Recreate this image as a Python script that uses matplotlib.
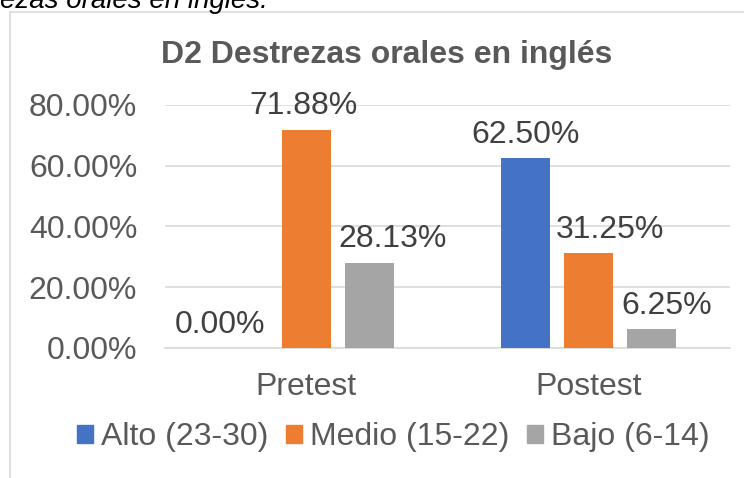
import numpy as np
import matplotlib.pyplot as plt
from matplotlib.lines import Line2D
from matplotlib.patches import Patch

plt.rcParams['font.family'] = ['Liberation Sans', 'DejaVu Sans']

categories = ['Pretest', 'Postest']
series = ['Alto (23-30)', 'Medio (15-22)', 'Bajo (6-14)']
alto = [0.0, 0.625]
medio = [0.7188, 0.3125]
bajo = [0.2813, 0.0625]
colors = ['#4472C4', '#ED7D31', '#A5A5A5']
yticks = [0.0, 0.2, 0.4, 0.6, 0.8]

# horizontal nudges of the data labels (points), as placed in the original
label_dx = [[-17, 0], [-2, 15], [17, 11]]

txt = '#595959'
fs = 23

fig = plt.figure(figsize=(7.44, 4.78), dpi=100)
ax = fig.add_axes([0.2218, 0.2720, 0.7594, 0.5084])

x = np.arange(len(categories))
w = 0.173
offs = [-0.223, 0.0, 0.223]
for vals, off, c, dxs in zip([alto, medio, bajo], offs, colors, label_dx):
    bars = ax.bar(x + off, vals, width=w, color=c, zorder=3)
    for b, v, dx in zip(bars, vals, dxs):
        ax.annotate(f'{v * 100:.2f}%', (b.get_x() + b.get_width() / 2, v),
                    xytext=(dx, 6), textcoords='offset points',
                    ha='center', va='bottom', fontsize=fs, color='#404040')

ax.set_xlim(-0.5, 1.5)
ax.set_ylim(0, 0.8)
ax.set_yticks(yticks)
ax.set_yticklabels([f'{t * 100:.2f}%' for t in yticks])
ax.set_xticks(x)
ax.set_xticklabels(categories)
ax.tick_params(axis='y', length=0, pad=20, labelsize=fs, labelcolor=txt)
ax.tick_params(axis='x', length=0, pad=17, labelsize=fs, labelcolor=txt)
ax.grid(axis='y', color='#D9D9D9', linewidth=1.2, zorder=0)
for s in ['top', 'right', 'left']:
    ax.spines[s].set_visible(False)
ax.spines['bottom'].set_color('#D9D9D9')
ax.spines['bottom'].set_linewidth(1.2)

fig.text(0.520, 0.884, 'D2 Destrezas orales en inglés', ha='center', va='center',
         fontsize=fs, fontweight='bold', color=txt)

# chart border (partially visible)
fig.add_artist(Line2D([10 / 744, 10 / 744], [0, 1 - 12 / 478], color='#D9D9D9', lw=1.2))
fig.add_artist(Line2D([10 / 744, 1], [1 - 12 / 478, 1 - 12 / 478], color='#D9D9D9', lw=1.2))

# cut-off caption above the chart
fig.text(0.0, 1 - 8 / 478, 'ezas orales en inglés.', ha='left', va='baseline',
         fontsize=20, fontstyle='italic', color='black')

handles = [Patch(color=c) for c in colors]
fig.legend(handles, series, loc='center', bbox_to_anchor=(393 / 744, 1 - 437 / 478),
           ncol=3, frameon=False, fontsize=fs, labelcolor=txt,
           handlelength=0.5, handleheight=0.5, handletextpad=0.25, columnspacing=0.55)

fig.savefig('out.png', dpi=100)
